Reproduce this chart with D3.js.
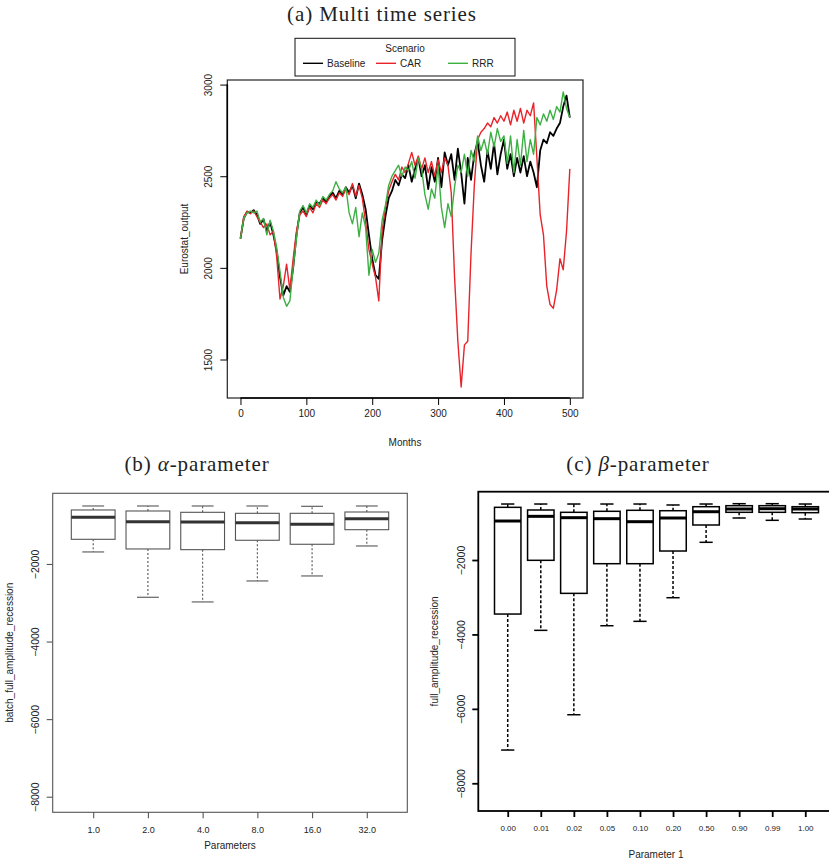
<!DOCTYPE html>
<html>
<head>
<meta charset="utf-8">
<script src="https://cdn.jsdelivr.net/npm/d3@7/dist/d3.min.js"></script>
<style>
  body { margin: 0; background: #fff; }
  svg { display: block; }
  svg text { font-family: "Liberation Sans", Arial, sans-serif; }
  svg text.title { font-family: "Liberation Serif", "Times New Roman", serif; font-size: 21px; letter-spacing: 0.9px; fill: #222; }
</style>
</head>
<body>
<div id="main"></div>
<script>
// (a) monthly series, one value every 5 months (0..500)
var months = d3.range(0, 501, 5);
var baseline = [2160, 2270, 2305, 2300, 2315, 2290, 2240, 2265, 2200, 2250, 2180, 2090, 1950, 1850, 1900, 1870,
    2000, 2180, 2300, 2330, 2290, 2340, 2320, 2360, 2350, 2380, 2360, 2390, 2410, 2380, 2420, 2400, 2440, 2410,
    2450, 2380, 2460, 2400, 2320, 2180, 2050, 1960, 1940, 2150, 2280, 2380, 2420, 2480, 2450, 2510, 2490, 2560,
    2470, 2540, 2600, 2500, 2560, 2430, 2550, 2470, 2600, 2440, 2630, 2560, 2620, 2480, 2650, 2520, 2350, 2600,
    2480, 2620, 2690, 2560, 2470, 2640, 2540, 2680, 2510, 2620, 2700, 2540, 2620, 2500, 2600, 2520, 2610, 2500,
    2580, 2520, 2440, 2640, 2700, 2680, 2740, 2720, 2760, 2790, 2880, 2940, 2820];
var car = [2160, 2280, 2310, 2295, 2310, 2280, 2250, 2220, 2240, 2180, 2200, 2060, 1830, 1900, 2020, 1880,
    2050, 2200, 2290, 2310, 2280, 2330, 2300, 2350, 2330, 2370, 2350, 2380, 2400, 2370, 2410, 2390, 2430, 2400,
    2460, 2390, 2450, 2380, 2250, 2100, 2020, 1950, 1820, 2200, 2330, 2420, 2470, 2510, 2480, 2550, 2520, 2570,
    2630, 2560, 2610, 2540, 2600, 2520, 2580, 2500, 2590, 2520, 2600, 2560, 2410, 1950, 1600, 1350, 1580, 1600,
    2080, 2450, 2700, 2740, 2760, 2790, 2770, 2820, 2790, 2830, 2800, 2850, 2780, 2860, 2800, 2870, 2790, 2860,
    2830, 2900, 2600, 2290, 2180, 1900, 1800, 1780, 1880, 2050, 1990, 2200, 2540];
var rrr = [2160, 2270, 2300, 2310, 2300, 2310, 2250, 2270, 2180, 2260, 2200, 2110, 1980, 1840, 1790, 1820,
    2000, 2160, 2310, 2340, 2300, 2350, 2330, 2370, 2340, 2390, 2370, 2400, 2420, 2470, 2430, 2410, 2440, 2300,
    2240, 2330, 2170, 2300, 2220, 1960, 2100, 2030, 2080, 2260, 2340, 2450, 2500, 2530, 2560, 2500, 2550, 2530,
    2580, 2490, 2600, 2540, 2400, 2320, 2430, 2380, 2560, 2330, 2220, 2350, 2280, 2440, 2560, 2520, 2620, 2500,
    2640, 2580, 2720, 2640, 2700, 2620, 2740, 2660, 2760, 2690, 2720, 2570, 2720, 2520, 2700, 2560, 2750, 2580,
    2700, 2620, 2820, 2780, 2840, 2800, 2860, 2810, 2880, 2850, 2960, 2870, 2820];
var seriesNames = ["Baseline", "CAR", "RRR"];
var seriesColors = ["#000000", "#e8242a", "#3cb043"];
var xTicksA = [0, 100, 200, 300, 400, 500];
var yTicksA = [1500, 2000, 2500, 3000];

// (b) alpha boxplots
var alphaLabels = ["1.0", "2.0", "4.0", "8.0", "16.0", "32.0"];
var alphaLow = [-1690, -2858, -2979, -2438, -2309, -1536];
var alphaQ1 = [-1364, -1613, -1631, -1389, -1492, -1116];
var alphaMed = [-797, -909, -917, -935, -977, -832];
var alphaQ3 = [-608, -634, -668, -694, -694, -660];
var alphaHigh = [-505, -505, -505, -505, -513, -505];

// (c) beta boxplots
var betaLabels = ["0.00", "0.01", "0.02", "0.05", "0.10", "0.20", "0.50", "0.90", "0.99", "1.00"];
var betaLow = [-7107, -3890, -6158, -3766, -3648, -3013, -1524, -871, -933, -898];
var betaQ1 = [-3452, -2008, -2896, -2099, -2099, -1758, -1059, -718, -718, -728];
var betaMed = [-952, -826, -862, -889, -970, -871, -702, -629, -621, -629];
var betaQ3 = [-584, -656, -718, -691, -664, -675, -567, -540, -540, -567];
var betaHigh = [-495, -495, -495, -495, -495, -521, -495, -486, -486, -495];

var yTicksBox = [-8000, -6000, -4000, -2000];

var svg = d3.select("#main").append("svg")
    .attr("width", 829)
    .attr("height", 861);

// rotate y tick labels like R does (parallel to the axis)
function rotateYLabels(a, off) {
    a.selectAll("text")
        .attr("fill", "#222")
        .attr("text-anchor", "middle")
        .attr("x", 0).attr("y", 0).attr("dy", "0.35em")
        .attr("transform", "translate(" + off + ",0) rotate(-90)");
}

/**
 * Draws the (a) panel: three time series with legend
 */
function drawSeries() {
    var x = d3.scaleLinear().domain([-20, 520]).range([227.3, 583]);
    var y = d3.scaleLinear().domain([1290, 3025]).range([398, 80]);
    var g = svg.append("g");

    svg.append("text").attr("class", "title")
        .attr("x", 382).attr("y", 20.5).attr("text-anchor", "middle")
        .text("(a) Multi time series");

    var data = [baseline, car, rrr];
    var line = d3.line()
        .x(function(d, i) { return x(months[i]); })
        .y(function(d) { return y(d); });

    data.forEach(function(s, k) {
        g.append("path")
            .attr("d", line(s))
            .attr("fill", "none")
            .attr("stroke", seriesColors[k])
            .attr("stroke-width", k === 0 ? 1.8 : 1.4)
            .attr("stroke-linejoin", "round");
    });

    // frame
    g.append("rect")
        .attr("x", 227.3).attr("y", 80).attr("width", 583 - 227.3).attr("height", 318)
        .attr("fill", "none").attr("stroke", "#222").attr("stroke-width", 1.2);

    g.append("g")
        .attr("transform", "translate(0,398)")
        .call(d3.axisBottom(x).tickValues(xTicksA).tickSize(7).tickPadding(5).tickSizeOuter(0))
        .call(function(a) {
            a.select(".domain").attr("d", "M" + x(0) + ",0H" + x(500)).attr("stroke-width", 1.6);
            a.selectAll("text").style("font-size", "10px").attr("fill", "#222");
        });

    g.append("g")
        .attr("transform", "translate(227.3,0)")
        .call(d3.axisLeft(y).tickValues(yTicksA).tickSize(7).tickSizeOuter(0).tickFormat(d3.format("d")))
        .call(function(a) {
            a.select(".domain").attr("d", "M0," + y(1500) + "V" + y(3000)).attr("stroke-width", 1.6);
            a.selectAll("text").style("font-size", "10px");
            rotateYLabels(a, -19);
        });

    svg.append("text")
        .attr("x", 405).attr("y", 446).attr("text-anchor", "middle")
        .style("font-size", "10px").attr("fill", "#222").text("Months");
    svg.append("text")
        .attr("transform", "translate(187.5,239) rotate(-90)")
        .attr("text-anchor", "middle")
        .style("font-size", "10px").attr("fill", "#222").text("Eurostat_output");

    // legend
    var lg = svg.append("g");
    lg.append("rect").attr("x", 295).attr("y", 38.3).attr("width", 220).attr("height", 37.7)
        .attr("fill", "#fff").attr("stroke", "#111").attr("stroke-width", 1);
    lg.append("text").attr("x", 405).attr("y", 51.5).attr("text-anchor", "middle")
        .style("font-size", "10px").attr("fill", "#222").text("Scenario");
    var lx = [303, 376, 448];
    seriesNames.forEach(function(n, k) {
        lg.append("line").attr("x1", lx[k]).attr("x2", lx[k] + 20).attr("y1", 63.3).attr("y2", 63.3)
            .attr("stroke", seriesColors[k]).attr("stroke-width", 1.4);
        lg.append("text").attr("x", lx[k] + 24).attr("y", 67)
            .style("font-size", "10px").attr("fill", "#222").text(n);
    });
}

/**
 * Draws one boxplot panel
 */
function drawBoxes(opt) {
    var x = d3.scaleLinear().domain(opt.xDomain).range(opt.xRange);
    var y = d3.scaleLinear().domain(opt.yDomain).range(opt.yRange);
    var g = svg.append("g");
    var half = (x(1.4) - x(1)), cap = half / 2;
    var top = opt.yRange[1], bot = opt.yRange[0];

    svg.append("text").attr("class", "title")
        .attr("x", opt.titleX).attr("y", 471).attr("text-anchor", "middle")
        .call(function(t) {
            t.append("tspan").text(opt.titleA);
            t.append("tspan").style("font-style", "italic").text(opt.greek);
            t.append("tspan").text("-parameter");
        });

    opt.labels.forEach(function(l, i) {
        var cx = x(i + 1);
        // whiskers
        g.append("line").attr("x1", cx).attr("x2", cx).attr("y1", y(opt.q1[i])).attr("y2", y(opt.low[i]))
            .attr("stroke", opt.color).attr("stroke-width", opt.lw).attr("stroke-dasharray", opt.dash);
        g.append("line").attr("x1", cx).attr("x2", cx).attr("y1", y(opt.q3[i])).attr("y2", y(opt.high[i]))
            .attr("stroke", opt.color).attr("stroke-width", opt.lw).attr("stroke-dasharray", opt.dash);
        [opt.low[i], opt.high[i]].forEach(function(v) {
            g.append("line").attr("x1", cx - cap).attr("x2", cx + cap).attr("y1", y(v)).attr("y2", y(v))
                .attr("stroke", opt.color).attr("stroke-width", opt.lw);
        });
        g.append("rect")
            .attr("x", cx - half).attr("width", 2 * half)
            .attr("y", y(opt.q3[i])).attr("height", y(opt.q1[i]) - y(opt.q3[i]))
            .attr("fill", "#fff").attr("stroke", opt.color).attr("stroke-width", opt.lw);
        g.append("line").attr("x1", cx - half).attr("x2", cx + half)
            .attr("y1", y(opt.med[i])).attr("y2", y(opt.med[i]))
            .attr("stroke", opt.medColor).attr("stroke-width", 3);
    });

    // frame
    g.append("rect")
        .attr("x", opt.xRange[0]).attr("y", top)
        .attr("width", opt.xRange[1] - opt.xRange[0]).attr("height", bot - top)
        .attr("fill", "none").attr("stroke", opt.frameColor).attr("stroke-width", opt.frameW);

    var ticks = d3.range(1, opt.labels.length + 1);
    g.append("g")
        .attr("transform", "translate(0," + bot + ")")
        .call(d3.axisBottom(x).tickValues(ticks).tickSize(6).tickPadding(8)
            .tickFormat(function(d) { return opt.labels[d - 1]; }))
        .call(function(a) {
            a.select(".domain").remove();
            a.selectAll("line").attr("stroke", opt.frameColor).attr("stroke-width", opt.frameW);
            a.selectAll("text").style("font-size", opt.xFont).attr("fill", "#222");
        });

    g.append("g")
        .attr("transform", "translate(" + opt.xRange[0] + ",0)")
        .call(d3.axisLeft(y).tickValues(yTicksBox).tickSize(6).tickFormat(d3.format("d")))
        .call(function(a) {
            a.select(".domain").remove();
            a.selectAll("line").attr("stroke", opt.frameColor).attr("stroke-width", opt.frameW);
            a.selectAll("text").style("font-size", "10.5px");
            rotateYLabels(a, opt.yTickOff);
        });

    svg.append("text")
        .attr("x", opt.xLabelX).attr("y", opt.xLabelY).attr("text-anchor", "middle")
        .style("font-size", "10px").attr("fill", "#222").text(opt.xLabel);
    svg.append("text")
        .attr("transform", "translate(" + opt.yLabelX + "," + ((top + bot) / 2) + ") rotate(-90)")
        .attr("text-anchor", "middle")
        .style("font-size", "10px").attr("fill", "#222").text(opt.yLabel);
}

drawSeries();

drawBoxes({
    labels: alphaLabels, low: alphaLow, q1: alphaQ1, med: alphaMed, q3: alphaQ3, high: alphaHigh,
    xDomain: [0.26, 6.74], xRange: [52.7, 407.3],
    yDomain: [-8402, -178], yRange: [812.3, 493.3],
    color: "#555", medColor: "#333", lw: 1.1, dash: "2,2",
    frameColor: "#555", frameW: 1.1, xFont: "9px", yTickOff: -17,
    titleX: 197, titleA: "(b) ", greek: "α",
    xLabel: "Parameters", xLabelX: 230, xLabelY: 849,
    yLabel: "batch_full_amplitude_recession", yLabelX: 13
});

drawBoxes({
    labels: betaLabels, low: betaLow, q1: betaQ1, med: betaMed, q3: betaQ3, high: betaHigh,
    xDomain: [0.11, 10.89], xRange: [478.3, 834.7],
    yDomain: [-8745, -164], yRange: [811, 491.7],
    color: "#000", medColor: "#000", lw: 1.5, dash: "3,2",
    frameColor: "#000", frameW: 1.8, xFont: "8px", yTickOff: -16.5,
    titleX: 638, titleA: "(c) ", greek: "β",
    xLabel: "Parameter 1", xLabelX: 656, xLabelY: 858,
    yLabel: "full_amplitude_recession", yLabelX: 438
});
</script>
</body>
</html>
